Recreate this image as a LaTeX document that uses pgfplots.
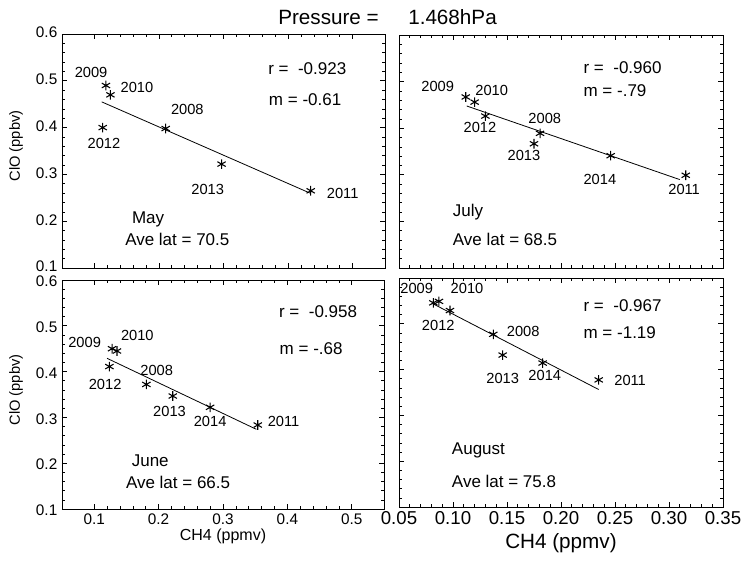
\documentclass[border=0pt]{standalone}
\usepackage{fontspec}
\setmainfont{Liberation Sans}
\usepackage{pgfplots}
\pgfplotsset{compat=1.18}
\newcommand\yf{\fontsize{11}{13}\selectfont}
\newcommand\tf{\fontsize{12.75}{15}\selectfont}
\pgfplotsset{
  panel/.style={
    scale only axis, anchor=north west, clip=false,
    ymin=0.1, ymax=0.6, ytick={0.1,0.2,0.3,0.4,0.5,0.6}, minor y tick num=4,
    tick align=inside, major tick length=4pt, minor tick length=2pt,
    every tick/.style={black, line width=0.5pt},
    axis line style={line width=0.7pt, black},
    /pgf/number format/assume math mode=true,
    tick label style={font=\fontsize{11.5}{13}\selectfont},
    y tick label style={/pgf/number format/fixed, /pgf/number format/fixed zerofill, /pgf/number format/precision=1},
  },
  leftx/.style={xmin=0.05, xmax=0.55, xtick={0.1,0.2,0.3,0.4,0.5}, minor x tick num=4,
    x tick label style={/pgf/number format/fixed, /pgf/number format/fixed zerofill, /pgf/number format/precision=1}},
  rightx/.style={xmin=0.05, xmax=0.35, xtick={0.05,0.10,0.15,0.20,0.25,0.30,0.35}, minor x tick num=4,
    x tick label style={/pgf/number format/fixed, /pgf/number format/fixed zerofill, /pgf/number format/precision=2}},
  pts/.style={only marks, mark=asterisk, mark size=3.6pt, mark options={line width=0.8pt}, black},
  fitl/.style={no marks, black, line width=0.6pt},
}
\begin{document}
\begin{tikzpicture}
\path[use as bounding box] (0,0) rectangle (558pt,-423.75pt);
\node[anchor=west, inner sep=0pt, font=\fontsize{15.5}{18}\selectfont] at (208.5pt,-12.75pt) {Pressure =};
\node[anchor=west, inner sep=0pt, font=\fontsize{15.5}{18}\selectfont] at (306pt,-12.75pt) {1.468hPa};
\node[rotate=90, font=\fontsize{11}{13}\selectfont] at (12pt,-109.5pt) {ClO (ppbv)};
\node[rotate=90, font=\fontsize{11}{13}\selectfont] at (12pt,-292.5pt) {ClO (ppbv)};
\node[font=\fontsize{12}{14}\selectfont] at (167.25pt,-402pt) {CH4 (ppmv)};
\node[font=\fontsize{15.5}{18}\selectfont] at (420.75pt,-407.25pt) {CH4 (ppmv)};

% Top left: May
\begin{axis}[panel, leftx, at={(46.5pt,-25.5pt)}, width=242.25pt, height=175.5pt, xticklabels={},
  y tick label style={yshift=1pt}]
\addplot[pts] coordinates {(0.118,0.490) (0.125,0.470) (0.113,0.400) (0.2105,0.398) (0.297,0.322) (0.435,0.265)};
\addplot[fitl] coordinates {(0.1115,0.455) (0.434,0.260)};
\node[font=\yf] at (axis cs:0.095,0.517) {2009};
\node[font=\yf] at (axis cs:0.166,0.486) {2010};
\node[font=\yf] at (axis cs:0.244,0.438) {2008};
\node[font=\yf] at (axis cs:0.115,0.366) {2012};
\node[font=\yf] at (axis cs:0.2755,0.268) {2013};
\node[font=\yf] at (axis cs:0.4845,0.26) {2011};
\node[font=\tf, anchor=west, inner sep=0pt] at (axis cs:0.369,0.527) {r =\ \ -0.923};
\node[font=\tf, anchor=west, inner sep=0pt] at (axis cs:0.370,0.459) {m = -0.61};
\node[font=\tf, anchor=west, inner sep=0pt] at (axis cs:0.158,0.204) {May};
\node[font=\tf, anchor=west, inner sep=0pt] at (axis cs:0.1475,0.161) {Ave lat = 70.5};
\end{axis}

% Top right: July
\begin{axis}[panel, rightx, at={(299.25pt,-26.25pt)}, width=243pt, height=174.75pt, xticklabels={}, yticklabels={}]
\addplot[pts] coordinates {(0.1118,0.467) (0.120,0.456) (0.130,0.426) (0.1806,0.389) (0.175,0.3666) (0.246,0.341) (0.3155,0.299)};
\addplot[fitl] coordinates {(0.1127,0.4477) (0.310,0.2897)};
\node[font=\yf] at (axis cs:0.0858,0.4894) {2009};
\node[font=\yf] at (axis cs:0.1358,0.480) {2010};
\node[font=\yf] at (axis cs:0.125,0.401) {2012};
\node[font=\yf] at (axis cs:0.185,0.421) {2008};
\node[font=\yf] at (axis cs:0.1657,0.341) {2013};
\node[font=\yf] at (axis cs:0.236,0.2897) {2014};
\node[font=\yf] at (axis cs:0.314,0.2696) {2011};
\node[font=\tf, anchor=west, inner sep=0pt] at (axis cs:0.2207,0.530) {r =\ \ -0.960};
\node[font=\tf, anchor=west, inner sep=0pt] at (axis cs:0.2207,0.480) {m = -.79};
\node[font=\tf, anchor=west, inner sep=0pt] at (axis cs:0.0997,0.219) {July};
\node[font=\tf, anchor=west, inner sep=0pt] at (axis cs:0.0997,0.162) {Ave lat = 68.5};
\end{axis}

% Bottom left: June
\begin{axis}[panel, leftx, at={(46.5pt,-210pt)}, width=241.5pt, height=171.75pt,
  y tick label style={yshift=-1pt}]
\addplot[pts] coordinates {(0.1277,0.450) (0.1354,0.445) (0.1236,0.411) (0.181,0.372) (0.222,0.3467) (0.280,0.322) (0.354,0.2834)};
\addplot[fitl] coordinates {(0.120,0.429) (0.3518,0.274)};
\node[font=\yf] at (axis cs:0.0851,0.463) {2009};
\node[font=\yf] at (axis cs:0.167,0.480) {2010};
\node[font=\yf] at (axis cs:0.197,0.4035) {2008};
\node[font=\yf] at (axis cs:0.117,0.372) {2012};
\node[font=\yf] at (axis cs:0.217,0.3125) {2013};
\node[font=\yf] at (axis cs:0.280,0.2907) {2014};
\node[font=\yf] at (axis cs:0.394,0.2907) {2011};
\node[font=\tf, anchor=west, inner sep=0pt] at (axis cs:0.3867,0.532) {r =\ \ -0.958};
\node[font=\tf, anchor=west, inner sep=0pt] at (axis cs:0.3877,0.451) {m = -.68};
\node[font=\tf, anchor=west, inner sep=0pt] at (axis cs:0.158,0.2055) {June};
\node[font=\tf, anchor=west, inner sep=0pt] at (axis cs:0.149,0.158) {Ave lat = 66.5};
\end{axis}

% Bottom right: August
\begin{axis}[panel, rightx, at={(299.25pt,-208.5pt)}, width=243pt, height=171.75pt, yticklabels={},
  x tick label style={font=\fontsize{14}{16}\selectfont}]
\addplot[pts] coordinates {(0.0818,0.5458) (0.0870,0.549) (0.0972,0.529) (0.1373,0.477) (0.146,0.4317) (0.183,0.4143) (0.2349,0.3775)};
\addplot[fitl] coordinates {(0.0809,0.5444) (0.2349,0.3565)};
\node[font=\yf] at (axis cs:0.0664,0.577) {2009};
\node[font=\yf] at (axis cs:0.113,0.577) {2010};
\node[font=\yf] at (axis cs:0.0864,0.4967) {2012};
\node[font=\yf] at (axis cs:0.165,0.483) {2008};
\node[font=\yf] at (axis cs:0.146,0.3796) {2013};
\node[font=\yf] at (axis cs:0.185,0.3868) {2014};
\node[font=\yf] at (axis cs:0.264,0.376) {2011};
\node[font=\tf, anchor=west, inner sep=0pt] at (axis cs:0.2207,0.5386) {r =\ \ -0.967};
\node[font=\tf, anchor=west, inner sep=0pt] at (axis cs:0.2207,0.4808) {m = -1.19};
\node[font=\tf, anchor=west, inner sep=0pt] at (axis cs:0.0988,0.2243) {August};
\node[font=\tf, anchor=west, inner sep=0pt] at (axis cs:0.0988,0.1556) {Ave lat = 75.8};
\end{axis}
\end{tikzpicture}
\end{document}
